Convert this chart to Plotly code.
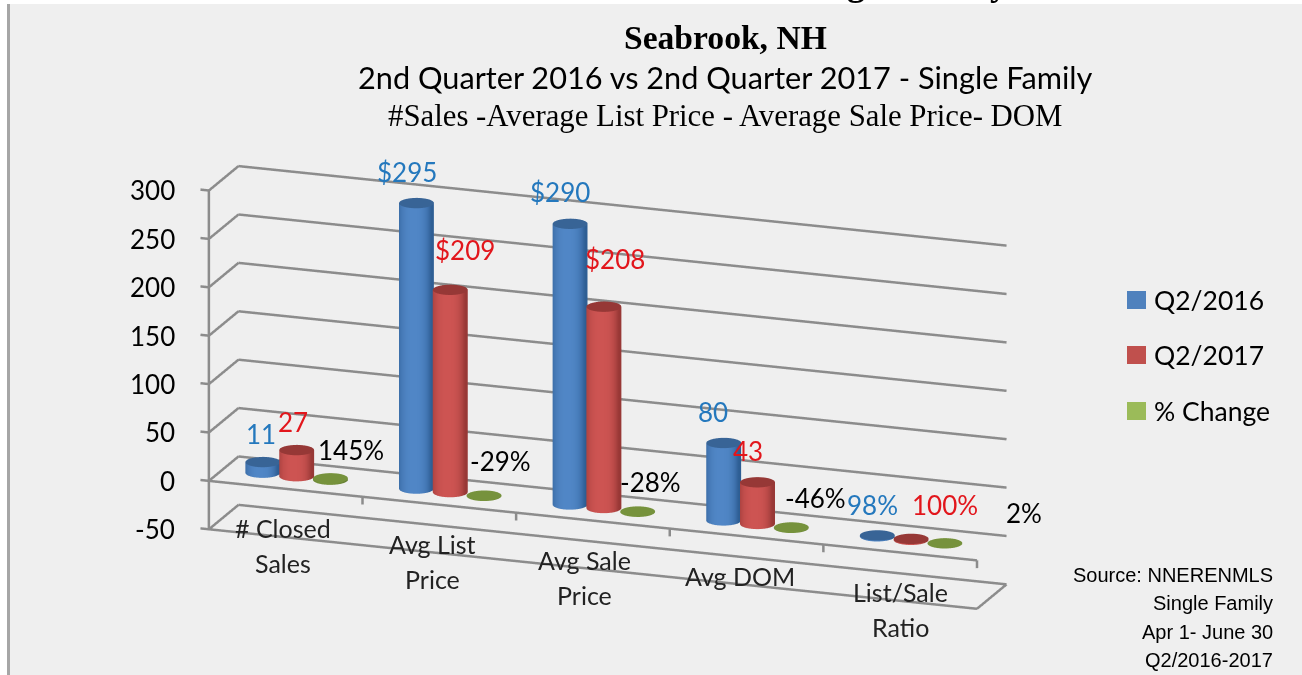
import math
import plotly.graph_objects as go

categories = [["# Closed", "Sales"], ["Avg List", "Price"], ["Avg Sale", "Price"], ["Avg DOM"], ["List/Sale", "Ratio"]]
q2_2016 = [11, 295, 290, 80, 0.98]
q2_2017 = [27, 209, 208, 43, 1.0]
pct_change = [1.45, -0.29, -0.28, -0.46, 0.02]
labels_2016 = ["11", "$295", "$290", "80", "98%"]
labels_2017 = ["27", "$209", "$208", "43", "100%"]
labels_change = ["145%", "-29%", "-28%", "-46%", "2%"]
z_ticks = [-50, 0, 50, 100, 150, 200, 250, 300]

# pixel nudges of the hand-placed data labels
shift_2016 = [(-2, 28), (-9, 31), (-10, 32), (-11, 31), (-5, 30)]
shift_2017 = [(-4, 28), (15, 40), (11, 48), (-9, 31), (34, 34)]
shift_change = [(21, 28), (16, 35), (13, 30), (24, 29), (79, 30)]
shift_category = [-3, -7, -8, -7, 0]

theta, phi = math.radians(19.5), math.radians(17)
D = 3.0
SCALE = 1.243
PAD = 0.02
TICK = 0.055
N = 40
RX, RY = 0.107, 0.2
SPACE = 0.22
BAR_OFFSET = -0.025
Y_MID = 0.5


def mix(a, b, t):
    return tuple(round(a[i] + (b[i] - a[i]) * t) for i in range(3))


def rgb(c):
    return f"rgb({c[0]},{c[1]},{c[2]})"


def cylinders(values, idx, light, dark, cap):
    X, Y, Z, I, J, K, C = [], [], [], [], [], [], []
    for c, v in enumerate(values):
        xc = c + 0.5 + BAR_OFFSET + (idx - 1) * SPACE
        lo, hi = min(0, v), max(0, v)
        base = len(X)
        for n in range(N):
            a = 2 * math.pi * n / N
            t = math.cos(a - theta)
            shade = max(0.0, 1 - abs(t + 0.15) ** 3)
            col = rgb(mix(dark, light, shade))
            for z in (lo, hi):
                X.append(xc + RX * math.cos(a)); Y.append(Y_MID + RY * math.sin(a)); Z.append(z); C.append(col)
        for n in range(N):
            m = (n + 1) % N
            a0, a1, b0, b1 = base + 2 * n, base + 2 * n + 1, base + 2 * m, base + 2 * m + 1
            I += [a0, a1]; J += [b0, b0]; K += [a1, b1]
        for z in (hi, lo):
            centre = len(X)
            X.append(xc); Y.append(Y_MID); Z.append(z); C.append(rgb(cap))
            for n in range(N):
                a = 2 * math.pi * n / N
                X.append(xc + RX * math.cos(a)); Y.append(Y_MID + RY * math.sin(a)); Z.append(z); C.append(rgb(cap))
            for n in range(N):
                I.append(centre); J.append(centre + 1 + n); K.append(centre + 1 + (n + 1) % N)
    return go.Mesh3d(x=X, y=Y, z=Z, i=I, j=J, k=K, vertexcolor=C, flatshading=False,
                     lighting=dict(ambient=1, diffuse=0, specular=0, roughness=1, fresnel=0),
                     hoverinfo="skip", showlegend=False)


fig = go.Figure()
fig.add_trace(cylinders(q2_2016, 0, (80, 134, 198), (46, 94, 148), (56, 100, 150)))
fig.add_trace(cylinders(q2_2017, 1, (205, 84, 82), (152, 56, 54), (150, 56, 54)))
fig.add_trace(cylinders(pct_change, 2, (118, 146, 60), (100, 126, 50), (118, 146, 60)))

GREY = "#8c8c8c"
edges_x, edges_y, edges_z = [], [], []
def seg(x0, y0, z0, x1, y1, z1):
    edges_x.extend([x0, x1, None]); edges_y.extend([y0, y1, None]); edges_z.extend([z0, z1, None])
seg(0, 0, 0, 5, 0, 0)
seg(0, 0, -50, 5, 0, -50)
seg(5, 0, -50, 5, 1, -50)
seg(0, 0, -50, 0, 0, 300)
for i in range(1, 6):
    seg(i, 0, 0, i, 0, -8)
for z in z_ticks:
    seg(-TICK, 0, z, 0, 0, z)
    seg(0, 0, z, 0, 1, z)
    seg(0, 1, z, 5, 1, z)
fig.add_trace(go.Scatter3d(x=edges_x, y=edges_y, z=edges_z, mode="lines",
                           line=dict(color=GREY, width=5), hoverinfo="skip", showlegend=False))

ann = []
LAB = "Lato"
def data_label(c, idx, v, text, shift, color):
    ann.append(dict(x=c + 0.5 + BAR_OFFSET + (idx - 1) * SPACE, y=Y_MID, z=max(v, 0), text=text, showarrow=False,
                    xshift=shift[0], yshift=shift[1], font=dict(family=LAB, size=26, color=color)))
for c in range(5):
    data_label(c, 0, q2_2016[c], labels_2016[c], shift_2016[c], "#2478bd")
    data_label(c, 1, q2_2017[c], labels_2017[c], shift_2017[c], "#e2161c")
    data_label(c, 2, pct_change[c], labels_change[c], shift_change[c], "#000000")
    for ln, line in enumerate(categories[c]):
        ann.append(dict(x=c + 0.5, y=0, z=-50, text=line, showarrow=False, xshift=shift_category[c], yshift=9 - 35 * ln,
                        font=dict(family=LAB, size=25, color="#222222")))
for z in z_ticks:
    ann.append(dict(x=0, y=0, z=z, text=str(z), showarrow=False, xanchor="right", xshift=-32,
                    font=dict(family=LAB, size=26, color="#000000")))

hidden = dict(showgrid=False, showline=False, zeroline=False, showticklabels=False, showbackground=False,
              ticks="", title="", showspikes=False)
x_lo, x_hi = -TICK - PAD, 5 + PAD
fig.update_layout(
    width=1302, height=675, margin=dict(l=0, r=0, t=0, b=0), paper_bgcolor="#efefef",
    showlegend=False,
    scene=dict(
        domain=dict(x=[0, 1207 / 1302], y=[3 / 675, 573 / 675]),
        xaxis=dict(range=[x_lo, x_hi], **hidden),
        yaxis=dict(range=[-PAD, 1 + PAD], **hidden),
        zaxis=dict(range=[-50 - 2, 300 + 2], tickvals=z_ticks, **hidden),
        aspectmode="manual",
        aspectratio=dict(x=2.30 * SCALE * (x_hi - x_lo) / 5, y=0.25 * SCALE * (1 + 2 * PAD), z=SCALE * 354 / 350),
        camera=dict(projection=dict(type="orthographic"),
                    eye=dict(x=D * math.sin(theta) * math.cos(phi), y=-D * math.cos(theta) * math.cos(phi), z=D * math.sin(phi)),
                    up=dict(x=0, y=0, z=1), center=dict(x=0, y=0, z=0)),
        annotations=ann,
    ),
    shapes=[
        dict(type="rect", xref="paper", yref="paper", x0=0, x1=1, y0=1 - 4 / 675, y1=1, fillcolor="white", line_width=0),
        dict(type="rect", xref="paper", yref="paper", x0=0, x1=7 / 1302, y0=0, y1=1, fillcolor="white", line_width=0),
        dict(type="rect", xref="paper", yref="paper", x0=7 / 1302, x1=10 / 1302, y0=0, y1=1 - 4 / 675, fillcolor="#a6a6a6", line_width=0),
    ] + [dict(type="rect", xref="paper", yref="paper", x0=1127 / 1302, x1=1146 / 1302, y0=1 - (yy + 9) / 675, y1=1 - (yy - 9) / 675,
              fillcolor=col, line_width=0) for yy, col in zip((300, 355, 411), ("#4f81bd", "#c0504d", "#9bbb59"))],
)


def page_text(text, x, y, size, family, anchor="center", bold=False, color="#000000"):
    fig.add_annotation(xref="paper", yref="paper", x=x / 1302, y=1 - y / 675, text=f"<b>{text}</b>" if bold else text,
                       showarrow=False, xanchor=anchor, yanchor="middle",
                       font=dict(family=family, size=size, color=color))

page_text("Q2 2017 Market Stats - Single Family", 1010, -17, 36, "Liberation Serif", anchor="right", bold=True)
page_text("Seabrook, NH", 725, 38, 33.6, "Liberation Serif", bold=True)
page_text("2nd Quarter 2016 vs 2nd Quarter 2017 - Single Family", 725, 78, 30.7, "Lato")
page_text("#Sales -Average List Price - Average Sale Price- DOM", 725, 116, 30.8, "Liberation Serif")
for yy, name in zip((300, 355, 411), ("Q2/2016", "Q2/2017", "% Change")):
    page_text(name, 1152, yy, 26.5, "Lato", anchor="left")
for yy, line in zip((575, 603, 632, 660), ("Source: NNERENMLS", "Single Family", "Apr 1- June 30", "Q2/2016-2017")):
    page_text(line, 1275, yy, 20, "Liberation Sans", anchor="right")

fig.write_html("out.html", config={"displayModeBar": False},
               post_script="document.body.style.margin='0';document.body.style.overflow='hidden';")
